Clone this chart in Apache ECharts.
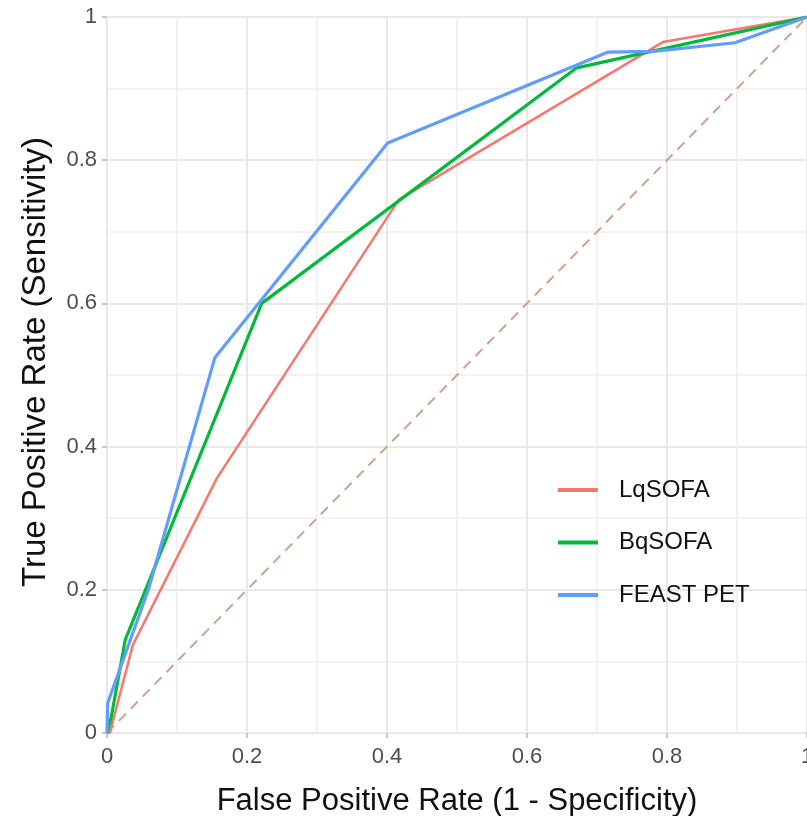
<!DOCTYPE html>
<html>
<head>
<meta charset="utf-8">
<script src="https://cdn.jsdelivr.net/npm/echarts@6/dist/echarts.min.js"></script>
<style>
  html, body { margin: 0; padding: 0; background: #ffffff; overflow: hidden; }
  #chart { width: 807px; height: 816px; }
</style>
</head>
<body>
<div id="chart"></div>
<script>
// Series names
const seriesNames = ['LqSOFA', 'BqSOFA', 'FEAST PET'];

// LqSOFA ROC curve
const lqsofaFPR = [0, 0.004, 0.037, 0.157, 0.417, 0.794, 1];
const lqsofaTPR = [0, 0.0, 0.123, 0.356, 0.745, 0.965, 1];

// BqSOFA ROC curve
const bqsofaFPR = [0, 0.006, 0.026, 0.221, 0.671, 1];
const bqsofaTPR = [0, 0.022, 0.13, 0.6, 0.929, 1];

// FEAST PET ROC curve
const feastFPR = [0, 0.001, 0.059, 0.154, 0.401, 0.716, 0.78, 0.897, 1];
const feastTPR = [0, 0.042, 0.2, 0.524, 0.824, 0.951, 0.952, 0.964, 1];

// Reference diagonal
const diagX = [0, 1];
const diagY = [0, 1];

// Axis ticks
const xTicks = [0, 0.2, 0.4, 0.6, 0.8, 1];
const yTicks = [0, 0.2, 0.4, 0.6, 0.8, 1];

const colors = ['#F8766D', '#00BA38', '#619CFF'];

function pairs(xs, ys) { return xs.map((x, i) => [x, ys[i]]); }

const chart = echarts.init(document.getElementById('chart'), null, { renderer: 'canvas' });

const axisCommon = {
  type: 'value',
  min: 0,
  max: 1,
  interval: 0.2,
  axisLine: { show: false },
  axisTick: { show: true, length: 5, lineStyle: { color: '#b5b5b5', width: 1.5 } },
  splitLine: { show: true, lineStyle: { color: '#e8e8e8', width: 2 } },
  minorTick: { show: false, splitNumber: 2 },
  minorSplitLine: { show: true, lineStyle: { color: '#efefef', width: 1.6 } },
  nameLocation: 'middle'
};

chart.setOption({
  animation: false,
  backgroundColor: '#ffffff',
  grid: { left: 107, right: 0, top: 17, bottom: 83, containLabel: false, outerBoundsMode: 'none' },
  xAxis: Object.assign({}, axisCommon, {
    name: 'False Positive Rate (1 - Specificity)',
    nameGap: 53,
    nameTextStyle: { fontFamily: 'Liberation Sans', fontSize: 31, color: '#111111' },
    axisLabel: {
      margin: 13, fontFamily: 'Liberation Sans', fontSize: 22, color: '#4d4d4d',
      hideOverlap: false,
      formatter: v => String(xTicks.find(t => Math.abs(t - v) < 1e-9) ?? v)
    }
  }),
  yAxis: Object.assign({}, axisCommon, {
    name: 'True Positive Rate (Sensitivity)',
    nameGap: 55,
    nameTextStyle: { fontFamily: 'Liberation Sans', fontSize: 33, color: '#111111', padding: [0, 0, 0, 26] },
    axisLabel: {
      margin: 10, fontFamily: 'Liberation Sans', fontSize: 22, color: '#4d4d4d',
      formatter: v => String(yTicks.find(t => Math.abs(t - v) < 1e-9) ?? v)
    }
  }),
  legend: {
    orient: 'vertical',
    left: 553,
    top: 471,
    data: seriesNames,
    icon: 'path://M0,0 L40,0 L40,4 L0,4 Z',
    itemWidth: 40,
    itemHeight: 4,
    itemGap: 24.5,
    textStyle: { fontFamily: 'Liberation Sans', fontSize: 24, color: '#111111', padding: [0, 0, 0, 16], lineHeight: 28 }
  },
  series: [
    {
      name: 'diag', type: 'line', data: pairs(diagX, diagY), showSymbol: false, symbol: 'none',
      lineStyle: { color: '#cfa28c', width: 2, type: [10, 7] }, silent: true, z: 1
    },
    {
      name: seriesNames[0], type: 'line', data: pairs(lqsofaFPR, lqsofaTPR), showSymbol: false, symbol: 'none',
      color: colors[0], lineStyle: { color: colors[0], width: 2.5 }, z: 3
    },
    {
      name: seriesNames[1], type: 'line', data: pairs(bqsofaFPR, bqsofaTPR), showSymbol: false, symbol: 'none',
      color: colors[1], lineStyle: { color: colors[1], width: 3.2 }, z: 4
    },
    {
      name: seriesNames[2], type: 'line', data: pairs(feastFPR, feastTPR), showSymbol: false, symbol: 'none',
      color: colors[2], lineStyle: { color: colors[2], width: 3.2 }, z: 5
    }
  ]
});
</script>
</body>
</html>
